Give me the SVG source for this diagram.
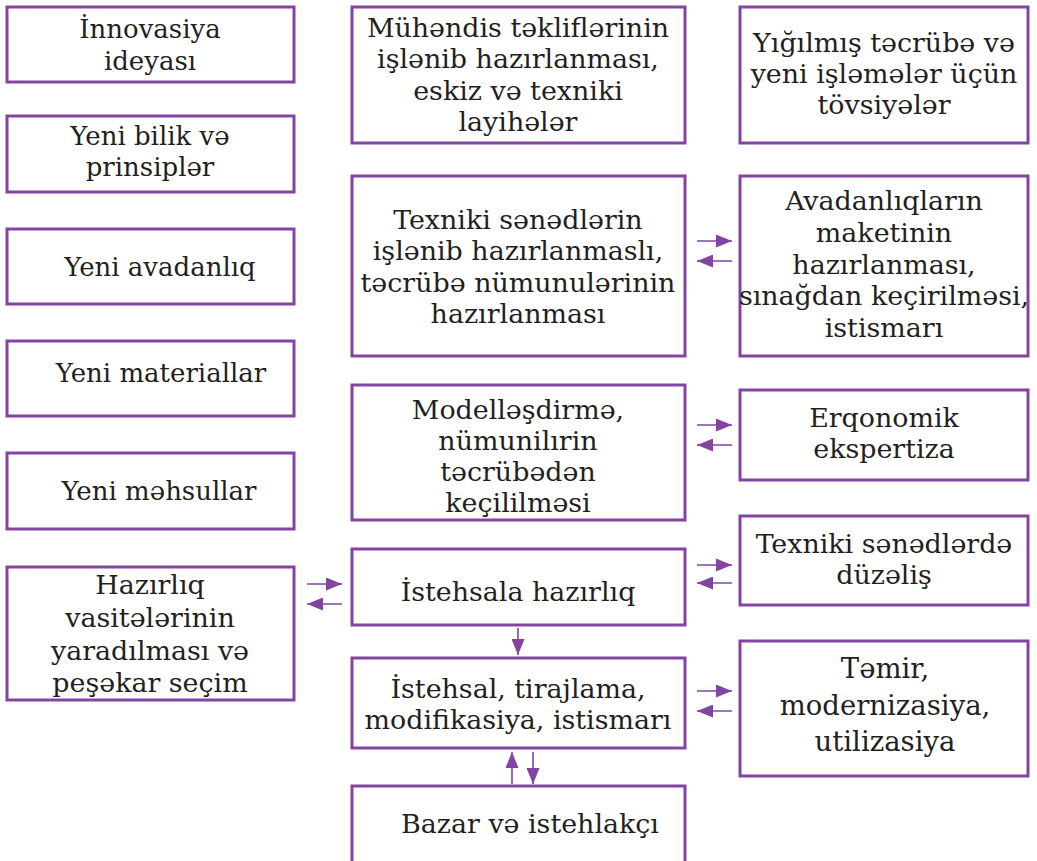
<svg xmlns="http://www.w3.org/2000/svg" width="1037" height="861" viewBox="0 0 1037 861">
  <defs>
    <marker id="head" markerUnits="userSpaceOnUse" markerWidth="16" markerHeight="13" refX="16" refY="6.5" orient="auto">
      <path d="M0,0 L16,6.5 L0,13 Z" fill="#8244a0"/>
    </marker>
    <style>
      .box { fill: #ffffff; stroke: #8244a0; stroke-width: 3; }
      .serif { font-family: "DejaVu Serif", serif; font-size: 26px; fill: #231f20; text-anchor: middle; }
      .serif.big { font-size: 27.5px; }
      .cond { font-family: "DejaVu Serif Condensed", "DejaVu Serif", serif; font-stretch: condensed; font-size: 26px; fill: #231f20; text-anchor: middle; }
      .link { stroke: #8244a0; stroke-width: 1.6; fill: none; marker-end: url(#head); }
    </style>
  </defs>
  <rect width="1037" height="861" fill="#ffffff"/>

  <!-- left column -->
  <g id="innovasiya">
    <rect class="box" x="7" y="7" width="287" height="75"/>
    <text class="serif" x="150" y="38">İnnovasiya</text>
    <text class="serif" x="150" y="70">ideyası</text>
  </g>
  <g id="bilik">
    <rect class="box" x="7" y="116" width="287" height="76"/>
    <text class="serif" x="150" y="145">Yeni bilik və</text>
    <text class="serif" x="150" y="176">prinsiplər</text>
  </g>
  <g id="avadanliq">
    <rect class="box" x="7" y="229" width="287" height="75"/>
    <text class="serif" x="160" y="276">Yeni avadanlıq</text>
  </g>
  <g id="materiallar">
    <rect class="box" x="7" y="341" width="287" height="75"/>
    <text class="serif" x="161" y="382">Yeni materiallar</text>
  </g>
  <g id="mehsullar">
    <rect class="box" x="7" y="453" width="287" height="76"/>
    <text class="serif" x="159" y="500">Yeni məhsullar</text>
  </g>
  <g id="hazirliq-vasiteleri">
    <rect class="box" x="7" y="567" width="287" height="133"/>
    <!-- labels widened 1.15x about the box centre (x=150) -->
    <g transform="translate(-22.5,0) scale(1.15,1)">
      <text class="cond" x="150" y="594">Hazırlıq</text>
      <text class="cond" x="150" y="627">vasitələrinin</text>
      <text class="cond" x="150" y="660">yaradılması və</text>
      <text class="cond" x="150" y="692">peşəkar seçim</text>
    </g>
  </g>

  <!-- middle column (labels widened 1.15x about x=518) -->
  <g id="muhendis">
    <rect class="box" x="352" y="7" width="333" height="136"/>
    <g transform="translate(-77.7,0) scale(1.15,1)">
      <text class="cond" x="518" y="37">Mühəndis təkliflərinin</text>
      <text class="cond" x="518" y="68">işlənib hazırlanması,</text>
      <text class="cond" x="518" y="100">eskiz və texniki</text>
      <text class="cond" x="518" y="131">layihələr</text>
    </g>
  </g>
  <g id="texniki-senedler">
    <rect class="box" x="352" y="176" width="333" height="180"/>
    <g transform="translate(-77.7,0) scale(1.15,1)">
      <text class="cond" x="518" y="229">Texniki sənədlərin</text>
      <text class="cond" x="518" y="260">işlənib hazırlanmaslı,</text>
      <text class="cond" x="518" y="292">təcrübə nümunulərinin</text>
      <text class="cond" x="518" y="323">hazırlanması</text>
    </g>
  </g>
  <g id="modellesdirme">
    <rect class="box" x="352" y="385" width="333" height="135"/>
    <g transform="translate(-77.7,0) scale(1.15,1)">
      <text class="cond" x="518" y="419">Modelləşdirmə,</text>
      <text class="cond" x="518" y="450">nümunilırin</text>
      <text class="cond" x="518" y="481">təcrübədən</text>
      <text class="cond" x="518" y="512">keçililməsi</text>
    </g>
  </g>
  <g id="istehsala-hazirliq">
    <rect class="box" x="352" y="549" width="333" height="76"/>
    <g transform="translate(-77.7,0) scale(1.15,1)">
      <text class="cond" x="518" y="601">İstehsala hazırlıq</text>
    </g>
  </g>
  <g id="istehsal">
    <rect class="box" x="352" y="658" width="333" height="90"/>
    <g transform="translate(-77.7,0) scale(1.15,1)">
      <text class="cond" x="518" y="698">İstehsal, tirajlama,</text>
      <text class="cond" x="518" y="729">modifikasiya, istismarı</text>
    </g>
  </g>
  <g id="bazar">
    <rect class="box" x="352" y="786" width="333" height="80"/>
    <g transform="translate(-79.5,0) scale(1.15,1)">
      <text class="cond" x="530" y="833">Bazar və istehlakçı</text>
    </g>
  </g>

  <!-- right column (labels widened 1.15x about x=884) -->
  <g id="tecrube">
    <rect class="box" x="740" y="7" width="288" height="136"/>
    <g transform="translate(-132.6,0) scale(1.15,1)">
      <text class="cond" x="884" y="52">Yığılmış təcrübə və</text>
      <text class="cond" x="884" y="83">yeni işləmələr üçün</text>
      <text class="cond" x="884" y="114">tövsiyələr</text>
    </g>
  </g>
  <g id="maket">
    <rect class="box" x="740" y="176" width="288" height="180"/>
    <g transform="translate(-132.6,0) scale(1.15,1)">
      <text class="cond" x="884" y="210">Avadanlıqların</text>
      <text class="cond" x="884" y="242">maketinin</text>
      <text class="cond" x="884" y="274">hazırlanması,</text>
      <text class="cond" x="884" y="305">sınağdan keçirilməsi,</text>
      <text class="cond" x="884" y="337">istismarı</text>
    </g>
  </g>
  <g id="erqonomik">
    <rect class="box" x="740" y="390" width="288" height="90"/>
    <g transform="translate(-132.6,0) scale(1.15,1)">
      <text class="cond" x="884" y="427">Erqonomik</text>
      <text class="cond" x="884" y="458">ekspertiza</text>
    </g>
  </g>
  <g id="duzelis">
    <rect class="box" x="740" y="516" width="288" height="89"/>
    <g transform="translate(-132.6,0) scale(1.15,1)">
      <text class="cond" x="884" y="553">Texniki sənədlərdə</text>
      <text class="cond" x="884" y="584">düzəliş</text>
    </g>
  </g>
  <g id="temir">
    <rect class="box" x="740" y="641" width="288" height="135"/>
    <text class="serif big" x="885" y="678">Təmir,</text>
    <text class="serif big" x="885" y="715">modernizasiya,</text>
    <text class="serif big" x="885" y="751">utilizasiya</text>
  </g>

  <!-- connectors -->
  <g id="connectors">
    <line class="link" x1="697" y1="241" x2="732" y2="241"/>
    <line class="link" x1="732" y1="261" x2="697" y2="261"/>
    <line class="link" x1="697" y1="425" x2="732" y2="425"/>
    <line class="link" x1="732" y1="445" x2="697" y2="445"/>
    <line class="link" x1="697" y1="565" x2="732" y2="565"/>
    <line class="link" x1="732" y1="583" x2="697" y2="583"/>
    <line class="link" x1="697" y1="691" x2="732" y2="691"/>
    <line class="link" x1="732" y1="711" x2="697" y2="711"/>
    <line class="link" x1="307" y1="584" x2="342" y2="584"/>
    <line class="link" x1="342" y1="604" x2="307" y2="604"/>
    <line class="link" x1="518" y1="628" x2="518" y2="655"/>
    <line class="link" x1="512" y1="784" x2="512" y2="752"/>
    <line class="link" x1="533" y1="752" x2="533" y2="784"/>
  </g>
</svg>
